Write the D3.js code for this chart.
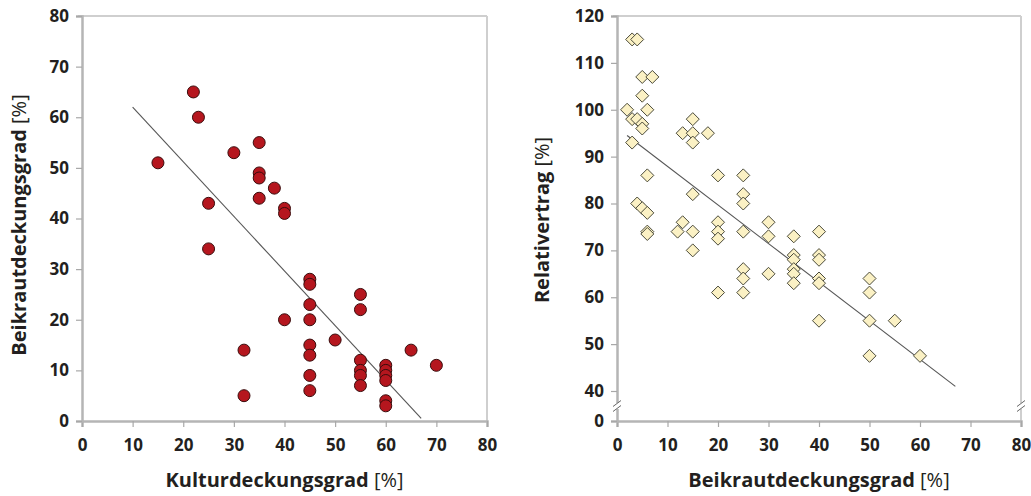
<!DOCTYPE html>
<html>
<head>
<meta charset="utf-8">
<script src="https://cdn.jsdelivr.net/npm/d3@7"></script>
<style>
  body { margin: 0; background: #fff; }
  svg text { font-family: "Open Sans", "DejaVu Sans", sans-serif; fill: #231f20; }
</style>
</head>
<body>
<div id="chart"></div>
<script>
// left panel: Kulturdeckungsgrad vs Beikrautdeckungsgrad
var kulturX = [15, 22, 23, 25, 25, 30, 32, 32, 35, 35, 35, 35, 38, 40, 40, 40,
  45, 45, 45, 45, 45, 45, 45, 45, 50, 55, 55, 55, 55, 55, 55,
  60, 60, 60, 60, 60, 60, 65, 70];
var beikrautY = [51, 65, 60, 43, 34, 53, 14, 5, 55, 49, 48, 44, 46, 42, 41, 20,
  28, 27, 23, 20, 15, 13, 9, 6, 16, 25, 22, 12, 10, 9, 7,
  11, 10, 9, 8, 4, 3, 14, 11];
var trendLeft = [[10, 62], [67, 0.5]];

// right panel: Beikrautdeckungsgrad vs Relativertrag
var beikrautX = [2, 3, 4, 3, 4, 5, 5, 3, 5, 7, 5, 6, 6, 4, 5, 6, 6, 6,
  12, 13, 13, 15, 15, 15, 18, 15, 15, 15,
  20, 20, 20, 20, 20, 25, 25, 25, 25, 25, 25, 25,
  30, 30, 30, 35, 35, 35, 35, 35, 35,
  40, 40, 40, 40, 40, 40, 50, 50, 50, 50, 55, 60];
var ertragY = [100, 115, 115, 98, 98, 97, 96, 93, 107, 107, 103, 100, 86, 80, 79, 78, 74, 73.5,
  74, 76, 95, 98, 95, 93, 95, 82, 74, 70,
  86, 76, 74, 72.5, 61, 86, 82, 80, 74, 66, 64, 61,
  76, 73, 65, 73, 69, 68, 66, 65, 63,
  74, 69, 68, 64, 63, 55, 64, 61, 55, 47.5, 55, 47.5];
var trendRight = [[2, 94.5], [67, 41]];

var xTicks = [0, 10, 20, 30, 40, 50, 60, 70, 80];
var yTicksLeft = [0, 10, 20, 30, 40, 50, 60, 70, 80];
var yTicksRight = [0, 40, 50, 60, 70, 80, 90, 100, 110, 120];

var w = 1031, h = 496;
var svg = d3.select("#chart").append("svg").attr("width", w).attr("height", h);

function panel(opt) {
  var g = svg.append("g");
  var x = opt.x, y = opt.y;
  var x0 = x.range()[0], x1 = x.range()[1];
  var yb = d3.max(y.range()), yt = d3.min(y.range());

  // frame
  g.append("line").attr("x1", x0 - 4).attr("x2", x1).attr("y1", yt).attr("y2", yt)
    .attr("stroke", "#cfcfcf").attr("stroke-width", 2);
  g.append("line").attr("x1", x1).attr("x2", x1).attr("y1", yt).attr("y2", yb + 1)
    .attr("stroke", "#cfcfcf").attr("stroke-width", 2);

  var xAxis = g.append("g").attr("transform", "translate(0," + yb + ")")
    .call(d3.axisBottom(x).tickValues(xTicks).tickSize(6).tickPadding(12));
  var yAxis = g.append("g").attr("transform", "translate(" + x0 + ",0)")
    .call(d3.axisLeft(y).tickValues(opt.yTicks).tickSize(6).tickPadding(7));
  [xAxis, yAxis].forEach(function(a) {
    a.select(".domain").attr("stroke", "#b5b5b5").attr("stroke-width", 2.5);
    a.selectAll(".tick line").attr("stroke", "#a8a8a8").attr("stroke-width", 1.2);
    a.selectAll(".tick text").attr("font-size", 17).attr("font-weight", 700)
      .attr("font-family", "'Open Sans', sans-serif").attr("fill", "#231f20");
  });

  if (opt.breakAt) {
    var by = y(opt.breakAt);
    [x0, x1].forEach(function(bx) {
      g.append("rect").attr("x", bx - 3).attr("y", by - 3).attr("width", 6).attr("height", 6)
        .attr("fill", "#fff");
      [-2.5, 2.5].forEach(function(d) {
        g.append("line").attr("x1", bx - 4).attr("y1", by + d + 3).attr("x2", bx + 4).attr("y2", by + d - 3)
          .attr("stroke", "#666").attr("stroke-width", 1);
      });
    });
  }

  // trend line
  g.append("line")
    .attr("x1", x(opt.trend[0][0])).attr("y1", y(opt.trend[0][1]))
    .attr("x2", x(opt.trend[1][0])).attr("y2", y(opt.trend[1][1]))
    .attr("stroke", "#555").attr("stroke-width", 1.1);

  var pts = opt.xs.map(function(d, i) { return [d, opt.ys[i]]; });
  if (opt.shape == "circle") {
    g.selectAll("circle").data(pts).enter().append("circle")
      .attr("cx", function(d) { return x(d[0]); })
      .attr("cy", function(d) { return y(d[1]); })
      .attr("r", 6)
      .attr("fill", "#b5161e").attr("stroke", "#3a0c0c").attr("stroke-width", 1);
  } else {
    g.selectAll("path.pt").data(pts).enter().append("path").attr("class", "pt")
      .attr("d", function(d) {
        var cx = x(d[0]), cy = y(d[1]), r = 6.5;
        return "M" + cx + "," + (cy - r) + "L" + (cx + r) + "," + cy + "L" + cx + "," + (cy + r) + "L" + (cx - r) + "," + cy + "Z";
      })
      .attr("fill", "#fbf1c4").attr("stroke", "#4a4a3a").attr("stroke-width", 1);
  }

  // axis titles
  var xt = g.append("text").attr("x", (x0 + x1) / 2).attr("y", opt.xTitleY)
    .attr("text-anchor", "middle").attr("font-size", 20);
  xt.append("tspan").attr("font-weight", 700).text(opt.xTitle + " ");
  xt.append("tspan").attr("font-weight", 400).text("[%]");

  var yt2 = g.append("text").attr("transform", "translate(" + opt.yTitleX + "," + opt.yTitleY + ") rotate(-90)")
    .attr("text-anchor", "middle").attr("font-size", 20);
  yt2.append("tspan").attr("font-weight", 700).text(opt.yTitle + " ");
  yt2.append("tspan").attr("font-weight", 400).text("[%]");
}

panel({
  x: d3.scaleLinear().domain([0, 80]).range([82, 487]),
  y: d3.scaleLinear().domain([0, 80]).range([421, 16]),
  yTicks: yTicksLeft,
  xs: kulturX, ys: beikrautY, trend: trendLeft, shape: "circle",
  xTitle: "Kulturdeckungsgrad", yTitle: "Beikrautdeckungsgrad",
  xTitleY: 487, yTitleX: 26, yTitleY: 225
});

panel({
  x: d3.scaleLinear().domain([0, 80]).range([617, 1021]),
  y: d3.scaleLinear().domain([0, 40, 120]).range([421, 391, 16]),
  yTicks: yTicksRight, breakAt: 20,
  xs: beikrautX, ys: ertragY, trend: trendRight, shape: "diamond",
  xTitle: "Beikrautdeckungsgrad", yTitle: "Relativertrag",
  xTitleY: 487, yTitleX: 549, yTitleY: 220
});
</script>
</body>
</html>
